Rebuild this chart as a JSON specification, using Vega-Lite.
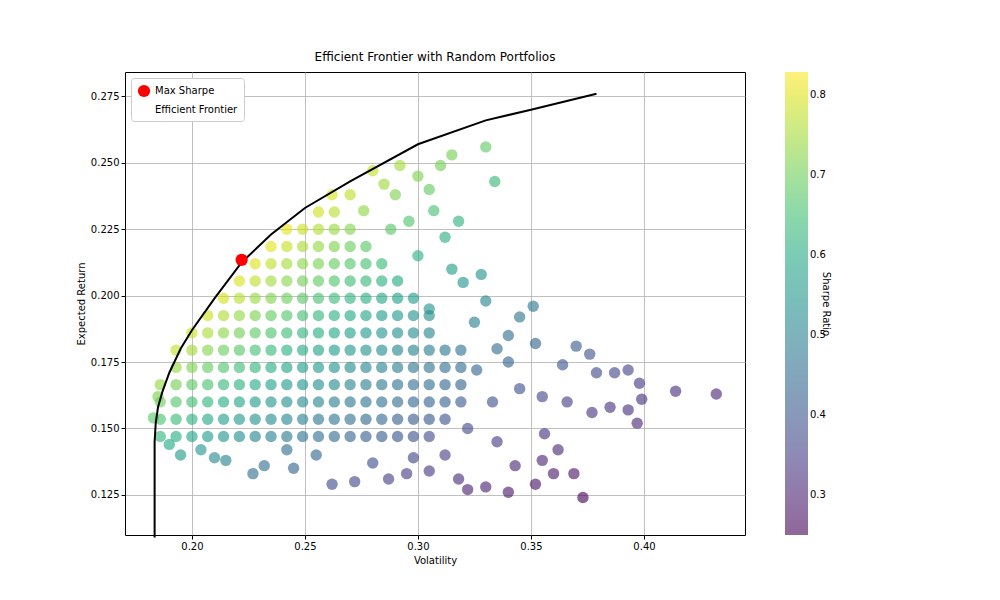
{
  "$schema": "https://vega.github.io/schema/vega-lite/v6.json",
  "autosize": "none",
  "padding": {"left": 125, "top": 72, "right": 255, "bottom": 65},
  "width": 620,
  "height": 463,
  "background": "white",
  "config": {
    "font": "DejaVu Sans",
    "view": {"stroke": "black", "strokeWidth": 1},
    "axis": {"grid": true, "gridColor": "#b0b0b0", "gridWidth": 0.8, "domain": false, "tickColor": "black", "tickSize": 4, "labelFontSize": 10, "labelColor": "black", "titleFontSize": 10, "titleFontWeight": "normal", "titleColor": "black"}
  },
  "title": {"text": "Efficient Frontier with Random Portfolios", "fontSize": 12, "fontWeight": "normal", "offset": 8},
  "datasets": {
    "pts": [
      {"v":0.186,"r":0.147,"s":0.629},{"v":0.193,"r":0.147,"s":0.606},{"v":0.200,"r":0.147,"s":0.585},{"v":0.207,"r":0.147,"s":0.565},{"v":0.214,"r":0.147,"s":0.547},{"v":0.221,"r":0.147,"s":0.529},{"v":0.228,"r":0.147,"s":0.513},{"v":0.235,"r":0.147,"s":0.498},{"v":0.242,"r":0.147,"s":0.483},{"v":0.249,"r":0.147,"s":0.470},{"v":0.256,"r":0.147,"s":0.457},{"v":0.263,"r":0.147,"s":0.445},{"v":0.270,"r":0.147,"s":0.433},{"v":0.277,"r":0.147,"s":0.422},{"v":0.284,"r":0.147,"s":0.412},{"v":0.291,"r":0.147,"s":0.402},{"v":0.298,"r":0.147,"s":0.393},{"v":0.305,"r":0.147,"s":0.384},
      {"v":0.186,"r":0.1535,"s":0.664},{"v":0.193,"r":0.1535,"s":0.640},{"v":0.200,"r":0.1535,"s":0.618},{"v":0.207,"r":0.1535,"s":0.597},{"v":0.214,"r":0.1535,"s":0.577},{"v":0.221,"r":0.1535,"s":0.559},{"v":0.228,"r":0.1535,"s":0.542},{"v":0.235,"r":0.1535,"s":0.526},{"v":0.242,"r":0.1535,"s":0.510},{"v":0.249,"r":0.1535,"s":0.496},{"v":0.256,"r":0.1535,"s":0.482},{"v":0.263,"r":0.1535,"s":0.470},{"v":0.270,"r":0.1535,"s":0.457},{"v":0.277,"r":0.1535,"s":0.446},{"v":0.284,"r":0.1535,"s":0.435},{"v":0.291,"r":0.1535,"s":0.424},{"v":0.298,"r":0.1535,"s":0.414},{"v":0.305,"r":0.1535,"s":0.405},{"v":0.312,"r":0.1535,"s":0.396},
      {"v":0.186,"r":0.160,"s":0.699},{"v":0.193,"r":0.160,"s":0.674},{"v":0.200,"r":0.160,"s":0.650},{"v":0.207,"r":0.160,"s":0.628},{"v":0.214,"r":0.160,"s":0.607},{"v":0.221,"r":0.160,"s":0.588},{"v":0.228,"r":0.160,"s":0.570},{"v":0.235,"r":0.160,"s":0.553},{"v":0.242,"r":0.160,"s":0.537},{"v":0.249,"r":0.160,"s":0.522},{"v":0.256,"r":0.160,"s":0.508},{"v":0.263,"r":0.160,"s":0.494},{"v":0.270,"r":0.160,"s":0.481},{"v":0.277,"r":0.160,"s":0.469},{"v":0.284,"r":0.160,"s":0.458},{"v":0.291,"r":0.160,"s":0.447},{"v":0.298,"r":0.160,"s":0.436},{"v":0.305,"r":0.160,"s":0.426},{"v":0.312,"r":0.160,"s":0.417},{"v":0.319,"r":0.160,"s":0.408},
      {"v":0.186,"r":0.1665,"s":0.734},{"v":0.193,"r":0.1665,"s":0.707},{"v":0.200,"r":0.1665,"s":0.683},{"v":0.207,"r":0.1665,"s":0.659},{"v":0.214,"r":0.1665,"s":0.638},{"v":0.221,"r":0.1665,"s":0.618},{"v":0.228,"r":0.1665,"s":0.599},{"v":0.235,"r":0.1665,"s":0.581},{"v":0.242,"r":0.1665,"s":0.564},{"v":0.249,"r":0.1665,"s":0.548},{"v":0.256,"r":0.1665,"s":0.533},{"v":0.263,"r":0.1665,"s":0.519},{"v":0.270,"r":0.1665,"s":0.506},{"v":0.277,"r":0.1665,"s":0.493},{"v":0.284,"r":0.1665,"s":0.481},{"v":0.291,"r":0.1665,"s":0.469},{"v":0.298,"r":0.1665,"s":0.458},{"v":0.305,"r":0.1665,"s":0.448},{"v":0.312,"r":0.1665,"s":0.437},{"v":0.319,"r":0.1665,"s":0.428},
      {"v":0.193,"r":0.173,"s":0.741},{"v":0.200,"r":0.173,"s":0.715},{"v":0.207,"r":0.173,"s":0.691},{"v":0.214,"r":0.173,"s":0.668},{"v":0.221,"r":0.173,"s":0.647},{"v":0.228,"r":0.173,"s":0.627},{"v":0.235,"r":0.173,"s":0.608},{"v":0.242,"r":0.173,"s":0.591},{"v":0.249,"r":0.173,"s":0.574},{"v":0.256,"r":0.173,"s":0.559},{"v":0.263,"r":0.173,"s":0.544},{"v":0.270,"r":0.173,"s":0.530},{"v":0.277,"r":0.173,"s":0.516},{"v":0.284,"r":0.173,"s":0.504},{"v":0.291,"r":0.173,"s":0.491},{"v":0.298,"r":0.173,"s":0.480},{"v":0.305,"r":0.173,"s":0.469},{"v":0.312,"r":0.173,"s":0.458},{"v":0.319,"r":0.173,"s":0.448},
      {"v":0.193,"r":0.1795,"s":0.775},{"v":0.200,"r":0.1795,"s":0.748},{"v":0.207,"r":0.1795,"s":0.722},{"v":0.214,"r":0.1795,"s":0.699},{"v":0.221,"r":0.1795,"s":0.676},{"v":0.228,"r":0.1795,"s":0.656},{"v":0.235,"r":0.1795,"s":0.636},{"v":0.242,"r":0.1795,"s":0.618},{"v":0.249,"r":0.1795,"s":0.600},{"v":0.256,"r":0.1795,"s":0.584},{"v":0.263,"r":0.1795,"s":0.568},{"v":0.270,"r":0.1795,"s":0.554},{"v":0.277,"r":0.1795,"s":0.540},{"v":0.284,"r":0.1795,"s":0.526},{"v":0.291,"r":0.1795,"s":0.514},{"v":0.298,"r":0.1795,"s":0.502},{"v":0.305,"r":0.1795,"s":0.490},{"v":0.312,"r":0.1795,"s":0.479},{"v":0.319,"r":0.1795,"s":0.469},
      {"v":0.200,"r":0.186,"s":0.780},{"v":0.207,"r":0.186,"s":0.754},{"v":0.214,"r":0.186,"s":0.729},{"v":0.221,"r":0.186,"s":0.706},{"v":0.228,"r":0.186,"s":0.684},{"v":0.235,"r":0.186,"s":0.664},{"v":0.242,"r":0.186,"s":0.645},{"v":0.249,"r":0.186,"s":0.627},{"v":0.256,"r":0.186,"s":0.609},{"v":0.263,"r":0.186,"s":0.593},{"v":0.270,"r":0.186,"s":0.578},{"v":0.277,"r":0.186,"s":0.563},{"v":0.284,"r":0.186,"s":0.549},{"v":0.291,"r":0.186,"s":0.536},{"v":0.298,"r":0.186,"s":0.524},{"v":0.305,"r":0.186,"s":0.512},
      {"v":0.207,"r":0.1925,"s":0.785},{"v":0.214,"r":0.1925,"s":0.759},{"v":0.221,"r":0.1925,"s":0.735},{"v":0.228,"r":0.1925,"s":0.713},{"v":0.235,"r":0.1925,"s":0.691},{"v":0.242,"r":0.1925,"s":0.671},{"v":0.249,"r":0.1925,"s":0.653},{"v":0.256,"r":0.1925,"s":0.635},{"v":0.263,"r":0.1925,"s":0.618},{"v":0.270,"r":0.1925,"s":0.602},{"v":0.277,"r":0.1925,"s":0.587},{"v":0.284,"r":0.1925,"s":0.572},{"v":0.291,"r":0.1925,"s":0.558},{"v":0.298,"r":0.1925,"s":0.545},{"v":0.305,"r":0.1925,"s":0.533},
      {"v":0.214,"r":0.199,"s":0.790},{"v":0.221,"r":0.199,"s":0.765},{"v":0.228,"r":0.199,"s":0.741},{"v":0.235,"r":0.199,"s":0.719},{"v":0.242,"r":0.199,"s":0.698},{"v":0.249,"r":0.199,"s":0.679},{"v":0.256,"r":0.199,"s":0.660},{"v":0.263,"r":0.199,"s":0.643},{"v":0.270,"r":0.199,"s":0.626},{"v":0.277,"r":0.199,"s":0.610},{"v":0.284,"r":0.199,"s":0.595},{"v":0.291,"r":0.199,"s":0.581},{"v":0.298,"r":0.199,"s":0.567},
      {"v":0.221,"r":0.2055,"s":0.794},{"v":0.228,"r":0.2055,"s":0.770},{"v":0.235,"r":0.2055,"s":0.747},{"v":0.242,"r":0.2055,"s":0.725},{"v":0.249,"r":0.2055,"s":0.705},{"v":0.256,"r":0.2055,"s":0.686},{"v":0.263,"r":0.2055,"s":0.667},{"v":0.270,"r":0.2055,"s":0.650},{"v":0.277,"r":0.2055,"s":0.634},{"v":0.284,"r":0.2055,"s":0.618},{"v":0.291,"r":0.2055,"s":0.603},
      {"v":0.228,"r":0.212,"s":0.798},{"v":0.235,"r":0.212,"s":0.774},{"v":0.242,"r":0.212,"s":0.752},{"v":0.249,"r":0.212,"s":0.731},{"v":0.256,"r":0.212,"s":0.711},{"v":0.263,"r":0.212,"s":0.692},{"v":0.270,"r":0.212,"s":0.674},{"v":0.277,"r":0.212,"s":0.657},{"v":0.284,"r":0.212,"s":0.641},
      {"v":0.235,"r":0.2185,"s":0.802},{"v":0.242,"r":0.2185,"s":0.779},{"v":0.249,"r":0.2185,"s":0.757},{"v":0.256,"r":0.2185,"s":0.736},{"v":0.263,"r":0.2185,"s":0.717},{"v":0.270,"r":0.2185,"s":0.698},{"v":0.277,"r":0.2185,"s":0.680},
      {"v":0.242,"r":0.225,"s":0.806},{"v":0.249,"r":0.225,"s":0.783},{"v":0.256,"r":0.225,"s":0.762},{"v":0.263,"r":0.225,"s":0.741},{"v":0.270,"r":0.225,"s":0.722},
      {"v":0.256,"r":0.2315,"s":0.787},{"v":0.263,"r":0.2315,"s":0.766},
      {"v":0.183,"r":0.154,"s":0.678},{"v":0.190,"r":0.144,"s":0.600},{"v":0.195,"r":0.140,"s":0.564},{"v":0.210,"r":0.139,"s":0.519},{"v":0.215,"r":0.138,"s":0.502},{"v":0.227,"r":0.133,"s":0.454},{"v":0.232,"r":0.136,"s":0.457},{"v":0.245,"r":0.135,"s":0.429},{"v":0.262,"r":0.129,"s":0.378},{"v":0.272,"r":0.130,"s":0.368},{"v":0.287,"r":0.131,"s":0.352},{"v":0.295,"r":0.133,"s":0.349},{"v":0.305,"r":0.134,"s":0.341},{"v":0.318,"r":0.131,"s":0.318},{"v":0.322,"r":0.127,"s":0.301},{"v":0.330,"r":0.128,"s":0.297},{"v":0.340,"r":0.126,"s":0.282},{"v":0.343,"r":0.136,"s":0.309},{"v":0.352,"r":0.129,"s":0.281},{"v":0.360,"r":0.133,"s":0.286},{"v":0.369,"r":0.133,"s":0.279},{"v":0.373,"r":0.124,"s":0.252},{"v":0.355,"r":0.138,"s":0.304},{"v":0.362,"r":0.142,"s":0.309},{"v":0.335,"r":0.145,"s":0.343},{"v":0.356,"r":0.148,"s":0.331},{"v":0.377,"r":0.156,"s":0.334},{"v":0.385,"r":0.158,"s":0.332},{"v":0.393,"r":0.157,"s":0.323},{"v":0.397,"r":0.152,"s":0.307},{"v":0.399,"r":0.161,"s":0.328},{"v":0.414,"r":0.164,"s":0.324},{"v":0.432,"r":0.163,"s":0.308},{"v":0.398,"r":0.167,"s":0.344},{"v":0.387,"r":0.171,"s":0.364},{"v":0.393,"r":0.172,"s":0.361},{"v":0.379,"r":0.171,"s":0.372},{"v":0.370,"r":0.181,"s":0.408},{"v":0.376,"r":0.178,"s":0.394},{"v":0.364,"r":0.174,"s":0.396},{"v":0.355,"r":0.162,"s":0.372},{"v":0.366,"r":0.160,"s":0.355},{"v":0.345,"r":0.165,"s":0.391},{"v":0.351,"r":0.196,"s":0.473},{"v":0.352,"r":0.182,"s":0.432},{"v":0.345,"r":0.192,"s":0.470},{"v":0.340,"r":0.185,"s":0.456},{"v":0.330,"r":0.198,"s":0.509},{"v":0.328,"r":0.208,"s":0.543},{"v":0.334,"r":0.243,"s":0.638},{"v":0.330,"r":0.256,"s":0.685},{"v":0.315,"r":0.253,"s":0.708},{"v":0.310,"r":0.249,"s":0.706},{"v":0.300,"r":0.245,"s":0.717},{"v":0.292,"r":0.249,"s":0.750},{"v":0.280,"r":0.247,"s":0.775},{"v":0.305,"r":0.240,"s":0.689},{"v":0.318,"r":0.228,"s":0.623},{"v":0.312,"r":0.222,"s":0.615},{"v":0.307,"r":0.232,"s":0.658},{"v":0.300,"r":0.215,"s":0.617},{"v":0.320,"r":0.205,"s":0.547},{"v":0.325,"r":0.190,"s":0.492},{"v":0.315,"r":0.210,"s":0.571},{"v":0.290,"r":0.238,"s":0.717},{"v":0.270,"r":0.238,"s":0.770},{"v":0.262,"r":0.238,"s":0.794},{"v":0.285,"r":0.242,"s":0.744},{"v":0.288,"r":0.225,"s":0.677},{"v":0.296,"r":0.228,"s":0.669},{"v":0.276,"r":0.232,"s":0.732},{"v":0.305,"r":0.195,"s":0.541},{"v":0.326,"r":0.172,"s":0.436},{"v":0.333,"r":0.160,"s":0.390},{"v":0.322,"r":0.150,"s":0.373},{"v":0.312,"r":0.140,"s":0.353},{"v":0.298,"r":0.139,"s":0.366},{"v":0.280,"r":0.137,"s":0.382},{"v":0.255,"r":0.140,"s":0.431},{"v":0.242,"r":0.142,"s":0.463},{"v":0.204,"r":0.142,"s":0.549},{"v":0.185,"r":0.162,"s":0.714},{"v":0.340,"r":0.175,"s":0.426},{"v":0.335,"r":0.180,"s":0.448}
    ],
    "frontier": [
      {"i":0,"v":0.1835,"r":0.109},{"i":1,"v":0.1835,"r":0.130},{"i":2,"v":0.1835,"r":0.145},{"i":3,"v":0.184,"r":0.152},{"i":4,"v":0.185,"r":0.158},{"i":5,"v":0.187,"r":0.164},{"i":6,"v":0.190,"r":0.171},{"i":7,"v":0.195,"r":0.180},{"i":8,"v":0.200,"r":0.187},{"i":9,"v":0.210,"r":0.199},{"i":10,"v":0.222,"r":0.2125},{"i":11,"v":0.235,"r":0.223},{"i":12,"v":0.250,"r":0.233},{"i":13,"v":0.270,"r":0.243},{"i":14,"v":0.300,"r":0.257},{"i":15,"v":0.330,"r":0.266},{"i":16,"v":0.350,"r":0.270},{"i":17,"v":0.379,"r":0.276}
    ],
    "maxs": [{"v":0.222,"r":0.2135,"lbl":"Max Sharpe"}]
  },
  "encoding": {
    "x": {"field": "v", "type": "quantitative", "title": "Volatility", "scale": {"domain": [0.1704, 0.4447], "nice": false, "zero": false}, "axis": {"values": [0.2, 0.25, 0.3, 0.35, 0.4], "format": ".2f"}},
    "y": {"field": "r", "type": "quantitative", "title": "Expected Return", "scale": {"domain": [0.1099, 0.2842], "nice": false, "zero": false}, "axis": {"values": [0.125, 0.15, 0.175, 0.2, 0.225, 0.25, 0.275], "format": ".3f"}}
  },
  "layer": [
    {
      "data": {"name": "pts"},
      "mark": {"type": "circle", "size": 130, "opacity": 0.62},
      "encoding": {
        "color": {"field": "s", "type": "quantitative", "scale": {"scheme": "viridis", "domain": [0.25, 0.829]}, "legend": {"title": "Sharpe Ratio", "orient": "none", "legendX": 660, "legendY": 0, "direction": "vertical", "gradientLength": 463, "gradientThickness": 23, "gradientStrokeColor": "black", "gradientOpacity": 0.6, "titleOrient": "right", "titleAngle": 270, "titleFontWeight": "normal", "titleFontSize": 10, "titleAnchor": "middle", "titleBaseline": "top", "labelFontSize": 10, "values": [0.3, 0.4, 0.5, 0.6, 0.7, 0.8], "format": ".1f"}}
      }
    },
    {
      "data": {"name": "frontier"},
      "mark": {"type": "line", "color": "black", "strokeWidth": 2},
      "encoding": {"order": {"field": "i", "type": "quantitative"}}
    },
    {
      "data": {"name": "maxs"},
      "mark": {"type": "point", "filled": true, "color": "red", "size": 150, "opacity": 1},
      "encoding": {
        "shape": {"field": "lbl", "type": "nominal", "scale": {"domain": ["Max Sharpe", "Efficient Frontier"], "range": ["circle", "stroke"]}, "legend": {"title": null, "orient": "top-left", "offset": 6, "padding": 6, "strokeColor": "#cccccc", "fillColor": "white", "cornerRadius": 3, "labelFontSize": 10, "symbolSize": 150, "encode": {"symbols": {"update": {"fill": {"signal": "datum.value === 'Max Sharpe' ? 'red' : 'transparent'"}, "stroke": {"signal": "datum.value === 'Max Sharpe' ? 'red' : 'black'"}, "strokeWidth": {"value": 2}, "opacity": {"value": 1}}}}}}
      }
    }
  ]
}
